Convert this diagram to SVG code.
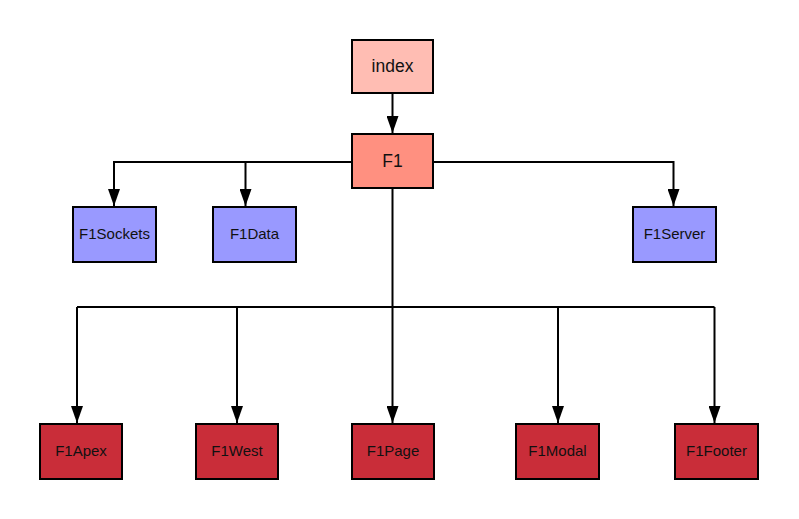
<svg xmlns="http://www.w3.org/2000/svg" width="799" height="519" viewBox="0 0 799 519">
  <style>
    .box { stroke: #000; stroke-width: 2; }
    .root { fill: #ffbdb3; }
    .main { fill: #ff9080; }
    .svc { fill: #9999ff; }
    .ui { fill: #c92d39; }
    .lbl { font-family: "Liberation Sans", Arial, sans-serif; font-size: 15px; fill: #111; text-anchor: middle; dominant-baseline: central; }
    .big { font-size: 17.5px; }
    .edge { fill: none; stroke: #000; stroke-width: 2; marker-end: url(#arrow); }
  </style>
  <defs>
    <marker id="arrow" markerUnits="userSpaceOnUse" markerWidth="17" markerHeight="12" refX="17" refY="6" viewBox="0 0 17 12" orient="auto">
      <path d="M0,0 L17,6 L0,12 Z" fill="#000"/>
    </marker>
  </defs>
  <rect width="799" height="519" fill="#fff"/>

  <g id="connectors">
    <path class="edge" d="M392.5,93 V133"/>
    <path class="edge" d="M352,162 H114 V206"/>
    <path class="edge" d="M352,162 H245.5 V206"/>
    <path class="edge" d="M433,162 H673.5 V206"/>
    <path fill="none" stroke="#000" stroke-width="2" d="M392.5,188 V307 M77,307 H714.5"/>
    <path class="edge" d="M77,307 V423"/>
    <path class="edge" d="M237,307 V423"/>
    <path class="edge" d="M392.5,307 V423"/>
    <path class="edge" d="M558,307 V423"/>
    <path class="edge" d="M714.5,307 V423"/>
  </g>

  <g id="index"><rect class="box root" x="352" y="40" width="81" height="53"/><text class="lbl big" x="392.5" y="66">index</text></g>
  <g id="F1"><rect class="box main" x="352" y="134" width="81" height="54"/><text class="lbl big" x="392.5" y="160.5">F1</text></g>

  <g id="F1Sockets"><rect class="box svc" x="73" y="207" width="83" height="55"/><text class="lbl" x="114.5" y="233.5">F1Sockets</text></g>
  <g id="F1Data"><rect class="box svc" x="213" y="207" width="83" height="55"/><text class="lbl" x="254.5" y="233.5">F1Data</text></g>
  <g id="F1Server"><rect class="box svc" x="633" y="207" width="83" height="55"/><text class="lbl" x="674.5" y="233.5">F1Server</text></g>

  <g id="F1Apex"><rect class="box ui" x="40" y="424" width="82" height="55"/><text class="lbl" x="81" y="450.5">F1Apex</text></g>
  <g id="F1West"><rect class="box ui" x="196" y="424" width="82" height="55"/><text class="lbl" x="237" y="450.5">F1West</text></g>
  <g id="F1Page"><rect class="box ui" x="352" y="424" width="82" height="55"/><text class="lbl" x="393" y="450.5">F1Page</text></g>
  <g id="F1Modal"><rect class="box ui" x="516" y="424" width="83" height="55"/><text class="lbl" x="557.5" y="450.5">F1Modal</text></g>
  <g id="F1Footer"><rect class="box ui" x="675" y="424" width="83" height="55"/><text class="lbl" x="716.5" y="450.5">F1Footer</text></g>
</svg>
